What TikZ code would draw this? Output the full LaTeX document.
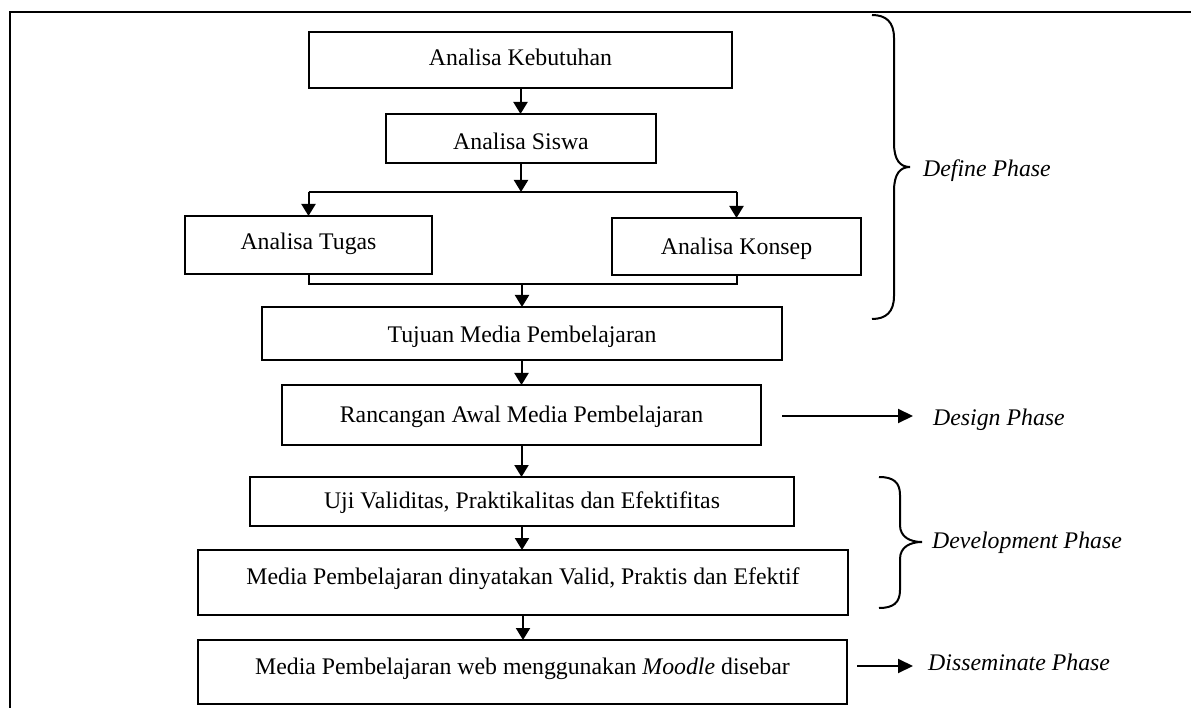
\documentclass[tikz,border=0pt]{standalone}
\usepackage{fontspec}
\setmainfont{Liberation Serif}
\usetikzlibrary{arrows.meta}
\begin{document}
\begin{tikzpicture}[x=1pt,y=-1pt,
  font=\fontsize{23.8}{28}\selectfont,
  box/.style={draw, line width=1.8pt, inner xsep=0pt, inner ysep=0pt, outer sep=0pt, anchor=north west, align=center},
  arr/.style={line width=2pt, -{Triangle[length=12pt,width=14pt]}},
  conn/.style={line width=2pt},
  brc/.style={line width=2pt},
  phase/.style={anchor=base west, inner sep=0pt, font=\fontsize{23.8}{28}\selectfont\itshape}]
\useasboundingbox (0,0) rectangle (1191,708);
% frame
\draw[line width=2.6pt] (10,708) -- (10,12) -- (1191,12);
% boxes
\node[box, minimum width=423pt, text height=34pt, text depth=22pt] (keb) at (309,32) {Analisa Kebutuhan};
\node[box, minimum width=270pt, text height=36pt, text depth=13pt] (sis) at (386,114) {Analisa Siswa};
\node[box, minimum width=247pt, text height=34pt, text depth=24pt] (tug) at (185,216) {Analisa Tugas};
\node[box, minimum width=249pt, text height=37pt, text depth=20pt] (kon) at (612,218) {Analisa Konsep};
\node[box, minimum width=520pt, text height=36pt, text depth=17pt] (tuj) at (262,307) {Tujuan Media Pembelajaran};
\node[box, minimum width=479pt, text height=37pt, text depth=23pt] (ran) at (282,385) {Rancangan Awal Media Pembelajaran};
\node[box, minimum width=544pt, text height=31pt, text depth=18pt] (uji) at (250,477) {Uji Validitas, Praktikalitas dan Efektifitas};
\node[box, minimum width=650pt, text height=34pt, text depth=31pt] (val) at (198,550) {Media Pembelajaran dinyatakan Valid, Praktis dan Efektif};
\node[box, minimum width=649pt, text height=34pt, text depth=30pt] (moo) at (198,640) {Media Pembelajaran web menggunakan \textit{Moodle} disebar};
% connectors
\draw[arr] (keb.south) -- (keb.south |- sis.north);
\coordinate (sl) at (tug.north |- 0,192);
\coordinate (sr) at (kon.north |- 0,192);
\draw[conn] (sl) -- (sr);
\draw[arr] (sis.south) -- (sis.south |- sl);
\draw[arr] (sl) -- (tug.north);
\draw[arr] (sr) -- (kon.north);
\coordinate (ml) at (tug.south |- 0,284);
\draw[conn] (tug.south) -- (ml) -| (kon.south);
\draw[arr] (ml -| tuj.north) -- (tuj.north);
\draw[arr] (tuj.south) -- (tuj.south -| ran.north) -- (ran.north);
\draw[arr] (ran.south) -- (ran.south |- uji.north);
\draw[arr] (uji.south) -- (uji.south |- val.north);
\draw[arr] (val.south) -- (val.south |- moo.north);
% phase labels
\node[phase] (def) at (923,177) {Define Phase};
\node[phase] (des) at (933,425) {Design Phase};
\node[phase] (dev) at (932,548) {Development Phase};
\node[phase] (dis) at (928,670) {Disseminate Phase};
\coordinate (desA) at (782,416);
\coordinate (desB) at (913,416);
\draw[arr, -{Triangle[length=15pt,width=14pt]}] (desA) -- (desB);
\coordinate (disA) at (857,666);
\coordinate (disB) at (913,666);
\draw[arr, -{Triangle[length=15pt,width=14pt]}] (disA) -- (disB);
% braces
\draw[brc] (872,15) .. controls (886,15) and (894,22) .. (894,38) -- (894,143)
  .. controls (894,160) and (900,167) .. (910,167)
  .. controls (900,167) and (894,174) .. (894,191) -- (894,296)
  .. controls (894,312) and (886,319) .. (872,319);
\draw[brc] (879,477) .. controls (893,477) and (900,482) .. (900,495) -- (900,525)
  .. controls (900,537) and (910,542) .. (922,542)
  .. controls (910,542) and (900,547) .. (900,559) -- (900,590)
  .. controls (900,603) and (893,608) .. (879,608);
\end{tikzpicture}
\end{document}
